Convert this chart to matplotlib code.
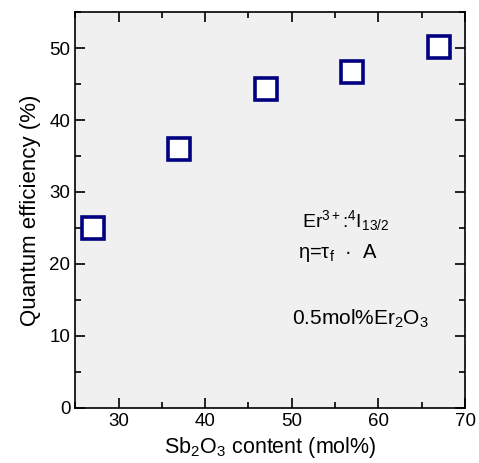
import matplotlib
matplotlib.use("Agg")
import matplotlib.pyplot as plt
from matplotlib.ticker import MultipleLocator

plt.rcParams['font.family'] = ['Liberation Sans', 'DejaVu Sans']
plt.rcParams['mathtext.fontset'] = 'custom'
plt.rcParams['mathtext.rm'] = 'Liberation Sans'
plt.rcParams['mathtext.it'] = 'Liberation Sans'
plt.rcParams['mathtext.default'] = 'regular'

sb2o3 = [27, 37, 47, 57, 67]
efficiency = [25.0, 36.0, 44.3, 46.7, 50.2]

fig = plt.figure(figsize=(4.79, 4.63), dpi=100)
ax = fig.add_axes([0.157, 0.119, 0.814, 0.855])
ax.set_facecolor('#f0f0f0')
ax.plot(sb2o3, efficiency, linestyle='none', marker='s', markersize=16,
        markerfacecolor='white', markeredgecolor='#000080', markeredgewidth=2.6)
ax.set_xlim(25, 70)
ax.set_ylim(0, 55)
ax.xaxis.set_major_locator(MultipleLocator(10))
ax.xaxis.set_minor_locator(MultipleLocator(5))
ax.yaxis.set_major_locator(MultipleLocator(10))
ax.yaxis.set_minor_locator(MultipleLocator(5))
ax.tick_params(which='both', direction='in', top=True, right=True, labelsize=13.5)
ax.tick_params(which='major', length=7, width=1.2)
ax.tick_params(which='minor', length=4, width=1.2)
for s in ax.spines.values():
    s.set_linewidth(1.2)
ax.set_xlabel('Sb$_2$O$_3$ content (mol%)', fontsize=15.5, labelpad=4)
ax.set_ylabel('Quantum efficiency (%)', fontsize=16, labelpad=6)
ax.text(0.582, 0.457, 'Er$^{3+}$:$^4$I$_{13/2}$', transform=ax.transAxes, fontsize=14)
ax.text(0.572, 0.379, 'η=τ$_f$  ·  A', transform=ax.transAxes, fontsize=14.5)
ax.text(0.556, 0.21, '0.5mol%Er$_2$O$_3$', transform=ax.transAxes, fontsize=15)
fig.savefig('out.png', dpi=100)
